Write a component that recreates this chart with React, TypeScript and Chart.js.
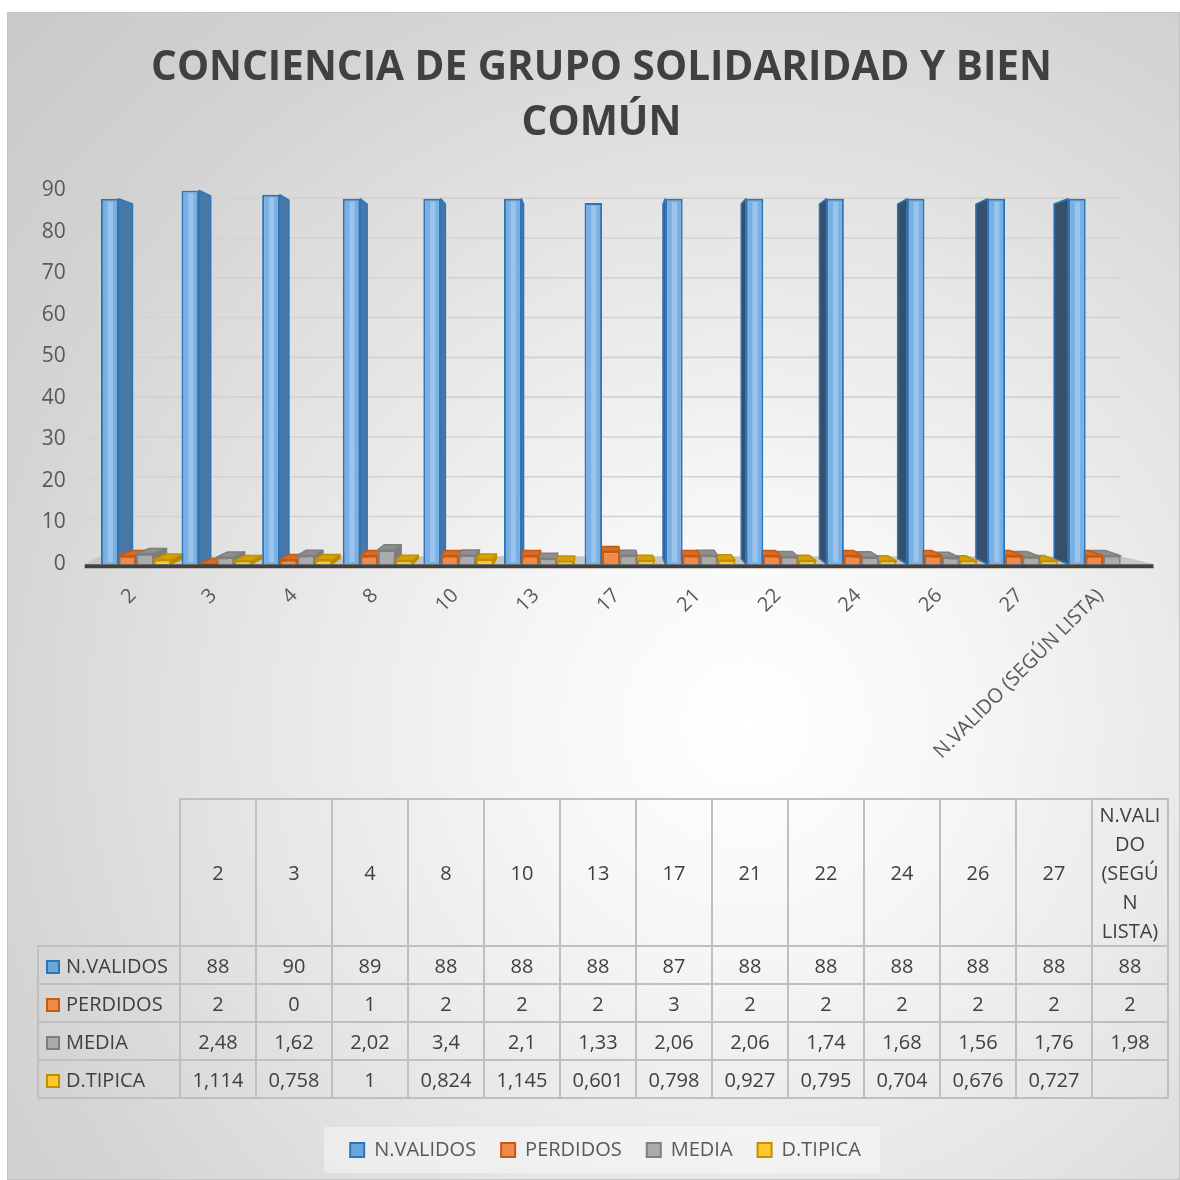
import React, { useEffect, useRef } from "react";
import { Chart, registerables } from "chart.js";

Chart.register(...registerables);

// ---------- data ----------
const TITLE_LINES = ["CONCIENCIA DE GRUPO SOLIDARIDAD Y BIEN", "COMÚN"];
const CATEGORIES = ["2", "3", "4", "8", "10", "13", "17", "21", "22", "24", "26", "27", "N.VALIDO (SEGÚN LISTA)"];
const LAST_HEADER_LINES = ["N.VALI", "DO", "(SEGÚ", "N", "LISTA)"];
const SERIES_NAMES = ["N.VALIDOS", "PERDIDOS", "MEDIA", "D.TIPICA"];
const N_VALIDOS = [88, 90, 89, 88, 88, 88, 87, 88, 88, 88, 88, 88, 88];
const PERDIDOS = [2, 0, 1, 2, 2, 2, 3, 2, 2, 2, 2, 2, 2];
const MEDIA = [2.48, 1.62, 2.02, 3.4, 2.1, 1.33, 2.06, 2.06, 1.74, 1.68, 1.56, 1.76, 1.98];
const D_TIPICA: (number | null)[] = [1.114, 0.758, 1, 0.824, 1.145, 0.601, 0.798, 0.927, 0.795, 0.704, 0.676, 0.727, null];
const Y_MIN = 0;
const Y_MAX = 90;
const Y_STEP = 10;

const SERIES_VALUES = [N_VALIDOS, PERDIDOS, MEDIA, D_TIPICA];

// ---------- styles ----------
const FONT = "'Open Sans', 'DejaVu Sans', sans-serif";
const STYLES = [
  { fill: "#78b0e6", border: "#2e75b6", top: "#5a8dc6", sideR: "#4a78a6", sideL: "#36506c", legend: "#6aa5dc" },
  { fill: "#f08a4b", border: "#c55a11", top: "#d96c24", sideR: "#b85c1c", sideL: "#a14f17", legend: "#f08a4b" },
  { fill: "#ababab", border: "#7f7f7f", top: "#8e8e8e", sideR: "#7d7d7d", sideL: "#6c6c6c", legend: "#ababab" },
  { fill: "#ffc72c", border: "#bf9000", top: "#d6a106", sideR: "#b08400", sideL: "#9a7400", legend: "#ffc72c" },
];

const fmt = (v: number | null) => (v == null ? "" : String(v).replace(".", ","));

const threeD = {
  id: "threeD",
  afterLayout(chart: any) {
    // centre the title / legend like the original (independent of y-axis width)
    if (chart.titleBlock) chart.titleBlock.left = 51.5;
    if (chart.legend) chart.legend.left = 59.5;
  },
  beforeDatasetsDraw(chart: any) {
    const { ctx, chartArea: ca } = chart;
    const vx = chart.width / 2;
    const vy = (ca.top + ca.bottom) / 2;
    const ys = chart.scales.y;
    const fl = ca.left - 11;
    const fr = ca.right + 10;
    const bl = fl + 15;
    const br = fr - 33;
    const backY = (y: number) => y + (vy - y) * 0.041;
    ctx.save();
    // floor
    const fy = ca.bottom;
    const by = backY(fy);
    ctx.fillStyle = "#c6c6c6";
    ctx.beginPath();
    ctx.moveTo(fl, fy);
    ctx.lineTo(fr, fy);
    ctx.lineTo(br, by);
    ctx.lineTo(bl, by);
    ctx.closePath();
    ctx.fill();
    // wall gridlines
    ctx.strokeStyle = "#d2d2d2";
    ctx.lineWidth = 1.6;
    ys.ticks.forEach((t: any) => {
      if (t.value === Y_MIN) return;
      const y = ys.getPixelForValue(t.value);
      const yb = backY(y);
      ctx.beginPath();
      ctx.moveTo(fl, y);
      ctx.lineTo(bl, yb);
      ctx.lineTo(br, yb);
      ctx.stroke();
    });
    // bar side / top faces
    const items: any[] = [];
    chart.data.datasets.forEach((ds: any, di: number) => {
      const meta = chart.getDatasetMeta(di);
      meta.data.forEach((el: any, i: number) => {
        if (ds.data[i] == null) return;
        const p = el.getProps(["x", "y", "base", "width"], true);
        items.push({
          di,
          cx: p.x,
          x1: p.x - p.width / 2,
          x2: p.x + p.width / 2,
          yt: Math.min(p.y, p.base),
          yb: Math.max(p.y, p.base),
        });
      });
    });
    items.sort((a, b) => Math.abs(b.cx - vx) - Math.abs(a.cx - vx));
    const t = 0.0295;
    const P = (px: number, py: number) => [px + (vx - px) * t, py + (vy - py) * t];
    const quad = (pts: number[][], fill: string, stroke: string) => {
      ctx.beginPath();
      ctx.moveTo(pts[0][0], pts[0][1]);
      for (let k = 1; k < pts.length; k++) ctx.lineTo(pts[k][0], pts[k][1]);
      ctx.closePath();
      ctx.fillStyle = fill;
      ctx.fill();
      ctx.strokeStyle = stroke;
      ctx.lineWidth = 1.5;
      ctx.lineJoin = "round";
      ctx.stroke();
    };
    for (const b of items) {
      const st = STYLES[b.di];
      if (b.x2 < vx) {
        quad([[b.x2, b.yt], P(b.x2, b.yt), P(b.x2, b.yb), [b.x2, b.yb]], st.sideR, st.border);
      } else if (b.x1 > vx) {
        quad([[b.x1, b.yt], P(b.x1, b.yt), P(b.x1, b.yb), [b.x1, b.yb]], st.sideL, st.border);
      }
      if (b.yt > vy) {
        quad([[b.x1, b.yt], [b.x2, b.yt], P(b.x2, b.yt), P(b.x1, b.yt)], st.top, st.border);
      }
    }
    ctx.restore();
  },
  afterDatasetsDraw(chart: any) {
    const { ctx, chartArea: ca } = chart;
    ctx.save();
    // highlight stripe on tall bars
    const meta = chart.getDatasetMeta(0);
    meta.data.forEach((el: any) => {
      const p = el.getProps(["x", "y", "base", "width"], true);
      const x1 = p.x - p.width / 2;
      ctx.fillStyle = "rgba(255,255,255,0.25)";
      ctx.fillRect(x1 + p.width * 0.38, p.y + 3, p.width * 0.3, p.base - p.y - 5);
    });
    // floor front edge
    ctx.strokeStyle = "#404040";
    ctx.lineWidth = 4;
    ctx.beginPath();
    ctx.moveTo(ca.left - 11, ca.bottom + 2.3);
    ctx.lineTo(ca.right + 10, ca.bottom + 2.3);
    ctx.stroke();
    ctx.restore();
  },
};

const legendBg = {
  id: "legendBg",
  beforeDraw(chart: any) {
    const lg = chart.legend;
    if (!lg || !lg.legendHitBoxes || !lg.legendHitBoxes.length) return;
    const hb = lg.legendHitBoxes;
    const first = hb[0];
    const last = hb[hb.length - 1];
    const l = first.left - 26;
    const r = last.left + last.width + 19;
    const cy = first.top + first.height / 2;
    const { ctx } = chart;
    ctx.save();
    ctx.fillStyle = "rgba(255,255,255,0.4)";
    ctx.fillRect(l, cy - 23, r - l, 46);
    ctx.restore();
  },
};

export default function App() {
  const ref = useRef<HTMLCanvasElement | null>(null);

  useEffect(() => {
    if (!ref.current) return;
    const chart = new Chart(ref.current, {
      type: "bar",
      data: {
        labels: CATEGORIES,
        datasets: SERIES_NAMES.map((name, i) => ({
          label: name,
          data: SERIES_VALUES[i] as any,
          backgroundColor: STYLES[i].fill,
          borderColor: STYLES[i].border,
          borderWidth: 2,
          barPercentage: 1,
          categoryPercentage: 0.87,
        })),
      },
      options: {
        animation: false,
        responsive: false,
        events: [],
        layout: { padding: { left: 0, right: 34.5, top: 0, bottom: 9 } },
        plugins: {
          title: {
            display: true,
            text: TITLE_LINES,
            color: "#404040",
            font: { family: FONT, size: 40.5, weight: "bold", lineHeight: "55px" } as any,
            padding: { top: 27.5, bottom: 40 },
          },
          legend: {
            position: "bottom",
            labels: {
              boxWidth: 14,
              boxHeight: 14,
              padding: 25,
              color: "#595959",
              font: { family: FONT, size: 20 },
              generateLabels: (chart: any) =>
                chart.data.datasets.map((ds: any, i: number) => ({
                  text: ds.label,
                  fillStyle: STYLES[i].legend,
                  strokeStyle: STYLES[i].border,
                  lineWidth: 2,
                  fontColor: "#595959",
                  hidden: false,
                  datasetIndex: i,
                })),
            },
          },
          tooltip: { enabled: false },
        },
        scales: {
          x: {
            grid: { display: false, drawTicks: false },
            border: { display: false },
            ticks: {
              autoSkip: false,
              maxRotation: 45,
              minRotation: 45,
              padding: 20,
              labelOffset: -3,
              color: "#595959",
              font: { family: FONT, size: 20 },
            },
            afterFit: (s: any) => {
              const lh = s.chart.legend && s.chart.legend.height ? s.chart.legend.height : 55;
              s.height = s.chart.height - 9 - lh - 551;
            },
          },
          y: {
            min: Y_MIN,
            max: Y_MAX,
            grid: { display: false, drawTicks: false },
            border: { display: false },
            ticks: {
              stepSize: Y_STEP,
              padding: 30,
              color: "#595959",
              font: { family: FONT, size: 21 },
            },
            afterFit: (s: any) => {
              s.width = 87.7;
            },
          },
        },
      },
      plugins: [threeD, legendBg],
    });
    return () => chart.destroy();
  }, []);

  const cell: React.CSSProperties = {
    border: "2px solid #bfbfbf",
    padding: 0,
    textAlign: "center",
    verticalAlign: "middle",
  };

  return (
    <div
      style={{
        position: "absolute",
        left: 7,
        top: 12,
        width: 1173,
        height: 1168,
        boxSizing: "border-box",
        border: "1px solid #c4c4c4",
        overflow: "hidden",
        background:
          "radial-gradient(circle farthest-corner at 63% 61%, #ffffff 0%, #f6f6f6 22%, #e6e6e6 48%, #d4d4d4 75%, #c9c9c9 100%)",
      }}
    >
      <canvas ref={ref} width={1170} height={1166} style={{ display: "block", position: "absolute", left: 0, top: 0 }} />
      <table
        style={{
          position: "absolute",
          left: 29,
          top: 785,
          borderCollapse: "collapse",
          tableLayout: "fixed",
          width: 1130,
          fontFamily: FONT,
          fontSize: 20,
          color: "#404040",
        }}
      >
        <colgroup>
          <col style={{ width: 142 }} />
          {CATEGORIES.map((c) => (
            <col key={c} style={{ width: 76 }} />
          ))}
        </colgroup>
        <tbody>
          <tr style={{ height: 147 }}>
            <td style={{ border: "none", padding: 0 }} />
            {CATEGORIES.map((c, i) => (
              <td key={c} style={{ ...cell, lineHeight: "29px" }}>
                {i === CATEGORIES.length - 1 ? LAST_HEADER_LINES.map((l, k) => <div key={k}>{l}</div>) : c}
              </td>
            ))}
          </tr>
          {SERIES_NAMES.map((name, si) => (
            <tr key={name} style={{ height: 38 }}>
              <td style={{ ...cell, textAlign: "left", paddingLeft: 7, whiteSpace: "nowrap" }}>
                <span
                  style={{
                    display: "inline-block",
                    width: 14,
                    height: 14,
                    boxSizing: "border-box",
                    border: `2px solid ${STYLES[si].border}`,
                    background: STYLES[si].legend,
                    marginRight: 6,
                    verticalAlign: "-1px",
                  }}
                />
                {name}
              </td>
              {SERIES_VALUES[si].map((v, ci) => (
                <td key={ci} style={cell}>
                  {fmt(v)}
                </td>
              ))}
            </tr>
          ))}
        </tbody>
      </table>
    </div>
  );
}
